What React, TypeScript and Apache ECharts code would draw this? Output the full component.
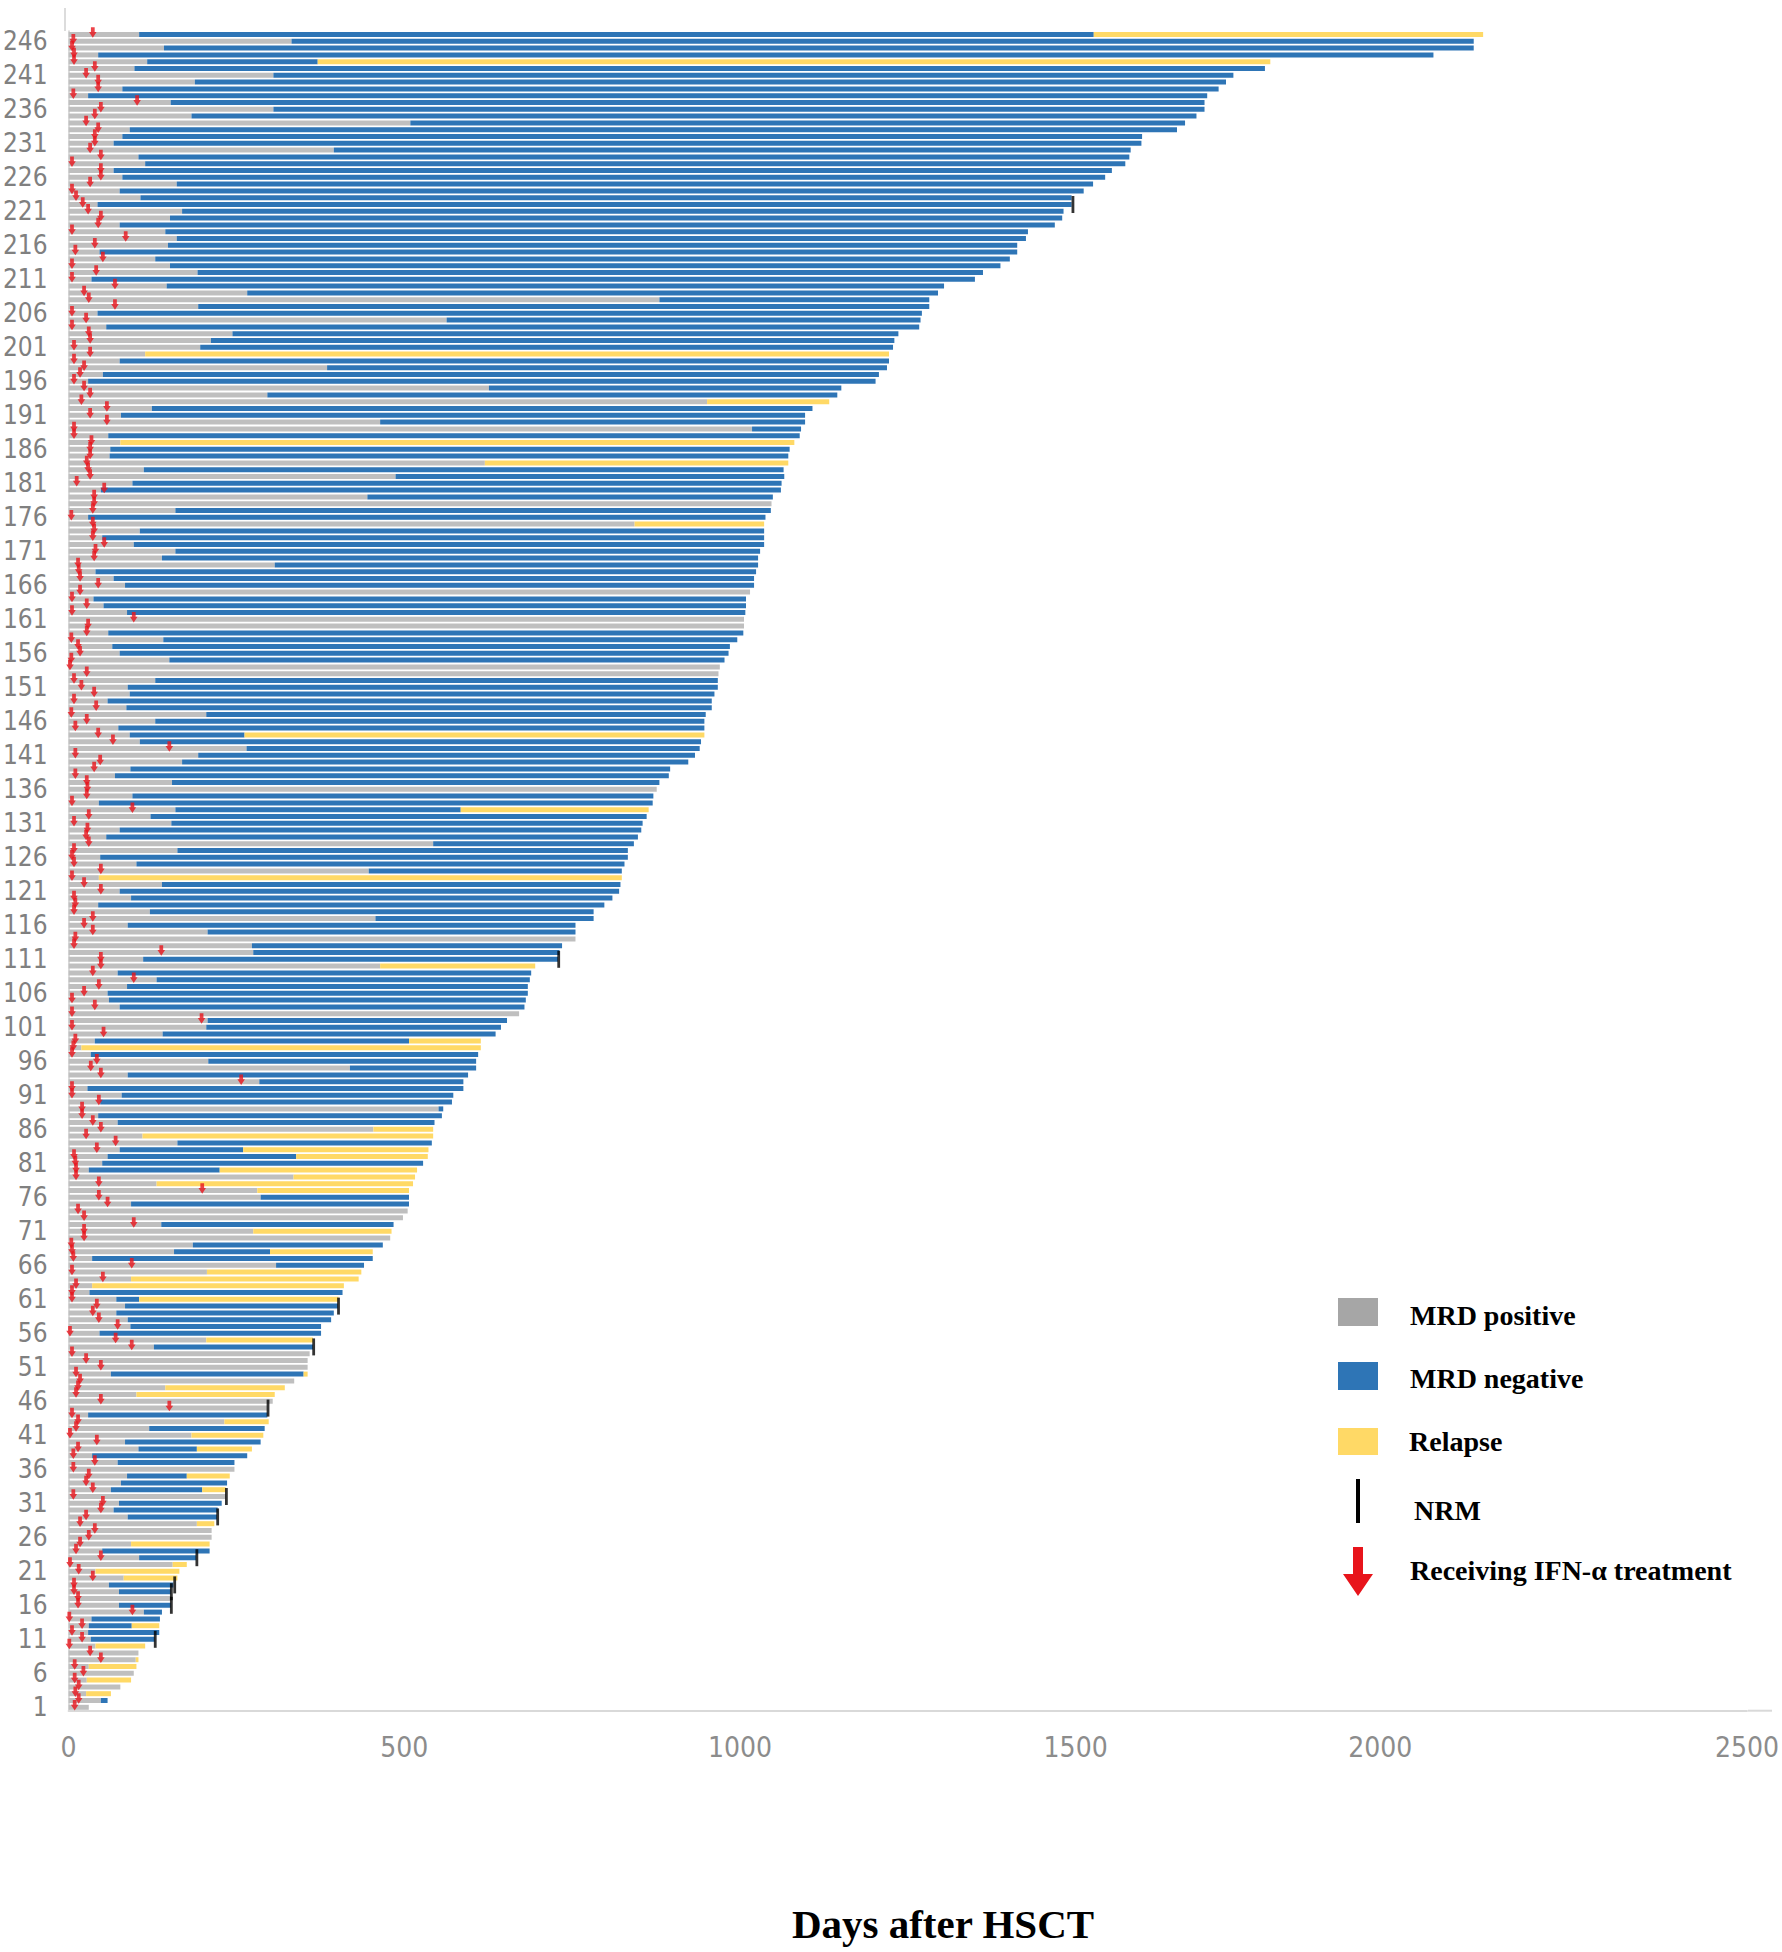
import React, { useEffect, useRef } from "react";
import * as echarts from "echarts";

// Per-patient values (index 0 = patient 1), days after HSCT
// End of MRD-positive period (start of MRD-negative)
const posEnd = [
  30, 48, 26, 77, 27, 97, 30, 100, 104, 40,
  33, 29, 30, 34, 112, 75, 152, 75, 60, 82,
  40, 155, 105, 50, 93, 213, 213, 191, 88, 67,
  75, 234, 63, 78, 87, 247, 73, 35, 104, 84,
  183, 120, 232, 29, 296, 304, 101, 144, 336, 63,
  356, 356, 359, 127, 205, 46, 92, 88, 71, 84,
  71, 31, 35, 93, 206, 309, 35, 157, 185, 479,
  275, 138, 498, 505, 93, 286, 281, 131, 335, 30,
  50, 58, 76, 162, 110, 454, 73, 44, 551, 47,
  79, 28, 284, 88, 419, 208, 33, 19, 39, 140,
  205, 207, 671, 76, 60, 58, 87, 131, 73, 464,
  111, 275, 273, 755, 207, 88, 457, 121, 44, 93,
  76, 139, 45, 447, 101, 47, 162, 543, 56, 76,
  153, 122, 159, 45, 95, 876, 154, 69, 92, 169,
  193, 265, 106, 91, 74, 129, 205, 86, 58, 91,
  88, 129, 968, 970, 150, 76, 65, 141, 59, 1006,
  1006, 87, 52, 37, 1015, 84, 67, 40, 307, 139,
  159, 97, 50, 106, 843, 29, 159, 1047, 445, 48,
  95, 487, 112, 620, 61, 62, 77, 59, 1018, 464,
  78, 124, 951, 296, 626, 29, 51, 385, 76, 114,
  196, 212, 244, 56, 563, 43, 193, 880, 266, 146,
  34, 192, 151, 129, 46, 148, 161, 144, 76, 151,
  169, 43, 107, 76, 161, 80, 67, 114, 104, 395,
  67, 80, 91, 509, 183, 305, 152, 29, 80, 188,
  305, 98, 117, 44, 142, 332, 105,
];

// End of MRD-negative period (equals posEnd when there is none)
const negEnd = [
  30, 58, 26, 77, 27, 97, 30, 100, 104, 40,
  128, 135, 94, 136, 139, 152, 152, 152, 156, 82,
  40, 155, 190, 210, 93, 213, 213, 191, 221, 222,
  228, 234, 199, 236, 176, 247, 247, 266, 191, 286,
  183, 292, 232, 296, 296, 304, 101, 144, 336, 350,
  356, 356, 359, 364, 205, 376, 376, 391, 395, 401,
  105, 408, 35, 93, 206, 440, 453, 300, 468, 479,
  275, 484, 498, 505, 507, 507, 281, 131, 335, 225,
  528, 339, 260, 541, 110, 454, 545, 556, 558, 571,
  573, 588, 588, 595, 607, 607, 610, 19, 507, 636,
  644, 653, 671, 679, 681, 684, 684, 687, 689, 464,
  729, 731, 735, 755, 755, 755, 782, 782, 798, 810,
  820, 822, 45, 824, 828, 833, 833, 842, 848, 853,
  855, 861, 584, 870, 871, 876, 880, 894, 896, 923,
  933, 940, 942, 262, 947, 947, 949, 958, 958, 962,
  967, 967, 968, 970, 977, 983, 985, 996, 1005, 1006,
  1006, 1008, 1009, 1009, 1015, 1021, 1021, 1024, 1027, 1027,
  1030, 1036, 1036, 1036, 843, 1038, 1046, 1047, 1049, 1061,
  1062, 1066, 1065, 620, 1072, 1074, 77, 1089, 1091, 1097,
  1097, 1108, 951, 1145, 1151, 1202, 1207, 1219, 1222, 114,
  1228, 1230, 1236, 1267, 1269, 1271, 1282, 1282, 1295, 1304,
  1350, 1362, 1388, 1402, 1413, 1413, 1426, 1429, 1469, 1480,
  1482, 1494, 1494, 1512, 1526, 1544, 1554, 1574, 1580, 1582,
  1598, 1599, 1651, 1663, 1680, 1692, 1692, 1696, 1713, 1724,
  1735, 1782, 371, 2033, 2093, 2093, 1527,
];

// End of relapse period (equals negEnd when there is none)
const relEnd = [
  30, 58, 63, 77, 93, 97, 101, 104, 104, 114,
  128, 135, 135, 136, 139, 152, 152, 152, 156, 162,
  165, 176, 190, 210, 210, 213, 213, 217, 221, 222,
  228, 234, 234, 236, 240, 247, 247, 266, 273, 286,
  290, 292, 298, 296, 296, 304, 307, 322, 336, 356,
  356, 356, 359, 364, 364, 376, 376, 391, 395, 401,
  402, 408, 410, 432, 436, 440, 453, 453, 468, 479,
  481, 484, 498, 505, 507, 507, 507, 513, 516, 519,
  528, 535, 536, 541, 543, 543, 545, 556, 558, 571,
  573, 588, 588, 595, 607, 607, 610, 614, 614, 636,
  644, 653, 671, 679, 681, 684, 684, 687, 689, 695,
  729, 731, 735, 755, 755, 755, 782, 782, 798, 810,
  820, 822, 824, 824, 828, 833, 833, 842, 848, 853,
  855, 861, 864, 870, 871, 876, 880, 894, 896, 923,
  933, 940, 942, 947, 947, 947, 949, 958, 958, 962,
  967, 967, 968, 970, 977, 983, 985, 996, 1005, 1006,
  1006, 1008, 1009, 1009, 1015, 1021, 1021, 1024, 1027, 1027,
  1030, 1036, 1036, 1036, 1036, 1038, 1046, 1047, 1049, 1061,
  1062, 1066, 1065, 1072, 1072, 1074, 1081, 1089, 1091, 1097,
  1097, 1108, 1133, 1145, 1151, 1202, 1207, 1219, 1222, 1222,
  1228, 1230, 1236, 1267, 1269, 1271, 1282, 1282, 1295, 1304,
  1350, 1362, 1388, 1402, 1413, 1413, 1426, 1429, 1469, 1480,
  1482, 1494, 1494, 1512, 1526, 1544, 1554, 1574, 1580, 1582,
  1598, 1599, 1651, 1663, 1680, 1692, 1692, 1696, 1713, 1724,
  1735, 1782, 1790, 2033, 2093, 2093, 2107,
];

// Day of IFN-α treatment start
const ifnDay = [
  9, 15, 10, 15, 9, 22, 9, 48, 32, 1,
  20, 5, 20, 1, 95, 14, 14, 8, 8, 36,
  15, 2, 48, 11, 17, 30, 39, 17, 26, 48,
  51, 7, 36, 26, 30, 7, 39, 7, 14, 42,
  2, 11, 14, 5, 150, 48, 11, 14, 17, 11,
  48, 26, 5, 94, 70, 2, 73, 45, 36, 42,
  5, 5, 11, 51, 5, 94, 7, 5, 4, 23,
  23, 97, 23, 14, 58, 45, 199, 45, 11, 11,
  10, 8, 42, 70, 26, 48, 36, 20, 20, 45,
  5, 5, 257, 48, 33, 42, 5, 7, 10, 52,
  5, 198, 5, 39, 5, 23, 45, 97, 36, 48,
  48, 138, 8, 10, 36, 23, 36, 8, 10, 8,
  48, 23, 5, 48, 8, 5, 8, 30, 26, 28,
  8, 30, 95, 5, 27, 28, 27, 10, 38, 47,
  10, 150, 66, 44, 10, 27, 4, 41, 8, 38,
  19, 8, 27, 2, 4, 17, 14, 4, 27, 29,
  97, 5, 27, 5, 17, 44, 17, 15, 14, 38,
  40, 53, 36, 38, 36, 4, 36, 38, 38, 53,
  12, 32, 29, 27, 32, 32, 34, 8, 8, 57,
  32, 57, 19, 32, 23, 8, 17, 23, 8, 32,
  8, 32, 30, 5, 26, 5, 69, 30, 23, 69,
  5, 41, 5, 51, 10, 39, 85, 5, 44, 48,
  29, 21, 11, 5, 32, 48, 48, 5, 48, 32,
  39, 39, 44, 26, 39, 48, 102, 7, 44, 44,
  26, 39, 8, 8, 5, 7, 36,
];

// Non-relapse mortality: patient numbers and day
const nrmPatients = [11, 16, 18, 19, 23, 29, 32, 45, 54, 60, 111, 222];
const nrmDay = [129, 153, 153, 158, 191, 222, 235, 297, 365, 402, 730, 1496];

const categories = posEnd.map((_, i) => String(i + 1));
const xTicks = [0, 500, 1000, 1500, 2000, 2500];

const legendItems = ["MRD positive", "MRD negative", "Relapse", "NRM", "Receiving IFN-α treatment"];
const titleText = "Days after HSCT";

const GRAY = "#bfbfbf";
const BLUE = "#2e75b6";
const YELLOW = "#ffd966";
const RED = "#e8141b";
const LABEL_FONT = "'Liberation Sans Narrow', 'Arial Narrow', 'DejaVu Sans Condensed', sans-serif";
const SERIF = "'Liberation Serif', 'Times New Roman', serif";
const ARROW = "path://M2.5,0L7.5,0L7.5,5.5L10,5.5L5,12L0,5.5L2.5,5.5Z";

export default function App() {
  const ref = useRef<HTMLDivElement>(null);

  useEffect(() => {
    if (!ref.current) return;
    const chart = echarts.init(ref.current, null, { renderer: "svg" });

    const blueLen = negEnd.map((v, i) => v - posEnd[i]);
    const yellowLen = relEnd.map((v, i) => v - negEnd[i]);

    const legendText = (t: string, x: number, y: number) => ({
      type: "text",
      x,
      y,
      style: {
        text: t,
        fontFamily: SERIF,
        fontWeight: "bold",
        fontSize: 28,
        fill: "#000",
        verticalAlign: "middle",
        align: "left",
      },
    });

    const option: any = {
      animation: false,
      backgroundColor: "#fff",
      grid: { left: 65, top: 31.1, width: 1683, height: 1679.6, containLabel: false },
      xAxis: {
        type: "value",
        min: 0,
        max: 2500,
        interval: 500,
        axisLine: { show: true, lineStyle: { color: "#d9d9d9", width: 2 } },
        axisTick: { show: false },
        splitLine: { show: false },
        axisLabel: {
          color: "#8c8c8c",
          fontSize: 28,
          fontFamily: LABEL_FONT,
          margin: 23,
          formatter: (v: number) => (v === 2000 ? "{shift|" + v + "}" : String(v)),
          rich: { shift: { fontSize: 28, fontFamily: LABEL_FONT, color: "#8c8c8c", padding: [0, 62, 0, 0] } },
          customValues: xTicks,
        },
      },
      yAxis: {
        type: "category",
        data: categories,
        axisLine: { show: true, lineStyle: { color: "#d0d0d0", width: 1.5 } },
        axisTick: { show: false },
        axisLabel: {
          interval: 4,
          color: "#808080",
          fontSize: 26,
          fontFamily: LABEL_FONT,
          margin: 21,
          padding: [8, 0, 0, 0],
        },
      },
      series: [
        {
          name: "MRD positive",
          type: "bar",
          stack: "s",
          barWidth: 5,
          itemStyle: { color: GRAY },
          data: posEnd,
          silent: true,
        },
        {
          name: "MRD negative",
          type: "bar",
          stack: "s",
          barWidth: 5,
          itemStyle: { color: BLUE },
          data: blueLen,
          silent: true,
        },
        {
          name: "Relapse",
          type: "bar",
          stack: "s",
          barWidth: 5,
          itemStyle: { color: YELLOW },
          data: yellowLen,
          silent: true,
        },
        {
          name: "NRM",
          type: "scatter",
          symbol: "rect",
          symbolSize: [2.8, 17],
          itemStyle: { color: "#000" },
          data: nrmPatients.map((p, i) => [nrmDay[i], String(p)]),
          z: 5,
          silent: true,
        },
        {
          name: "IFN",
          type: "scatter",
          symbol: ARROW,
          symbolSize: [7.5, 10.5],
          symbolOffset: [0, -2],
          itemStyle: { color: RED },
          data: ifnDay.map((d, i) => [d, categories[i]]),
          z: 6,
          silent: true,
        },
      ],
      graphic: [
        { type: "line", shape: { x1: 65, y1: 8, x2: 65, y2: 31 }, style: { stroke: "#d0d0d0", lineWidth: 1.5 } },
        { type: "line", shape: { x1: 1748, y1: 1710.7, x2: 1772, y2: 1710.7 }, style: { stroke: "#d9d9d9", lineWidth: 2 } },
        { type: "rect", shape: { x: 1338, y: 1298, width: 40, height: 28 }, style: { fill: "#a6a6a6" } },
        { type: "rect", shape: { x: 1338, y: 1362, width: 40, height: 28 }, style: { fill: BLUE } },
        { type: "rect", shape: { x: 1338, y: 1428, width: 40, height: 27 }, style: { fill: YELLOW } },
        { type: "rect", shape: { x: 1356, y: 1479, width: 4, height: 44 }, style: { fill: "#000" } },
        {
          type: "polygon",
          shape: {
            points: [
              [1353, 1547],
              [1363, 1547],
              [1363, 1574],
              [1373, 1574],
              [1358, 1596],
              [1343, 1574],
              [1353, 1574],
            ],
          },
          style: { fill: RED },
        },
        legendText(legendItems[0], 1410, 1315),
        legendText(legendItems[1], 1410, 1378),
        legendText(legendItems[2], 1409, 1441),
        legendText(legendItems[3], 1414, 1510),
        legendText(legendItems[4], 1410, 1570),
        {
          type: "text",
          x: 943,
          y: 1924,
          style: {
            text: titleText,
            fontFamily: SERIF,
            fontWeight: "bold",
            fontSize: 41,
            fill: "#000",
            align: "center",
            verticalAlign: "middle",
          },
        },
      ],
    };

    chart.setOption(option);
    return () => chart.dispose();
  }, []);

  return (
    <div
      ref={ref}
      style={{ position: "absolute", left: 0, top: 0, width: 1782, height: 1952, background: "#fff" }}
    />
  );
}
